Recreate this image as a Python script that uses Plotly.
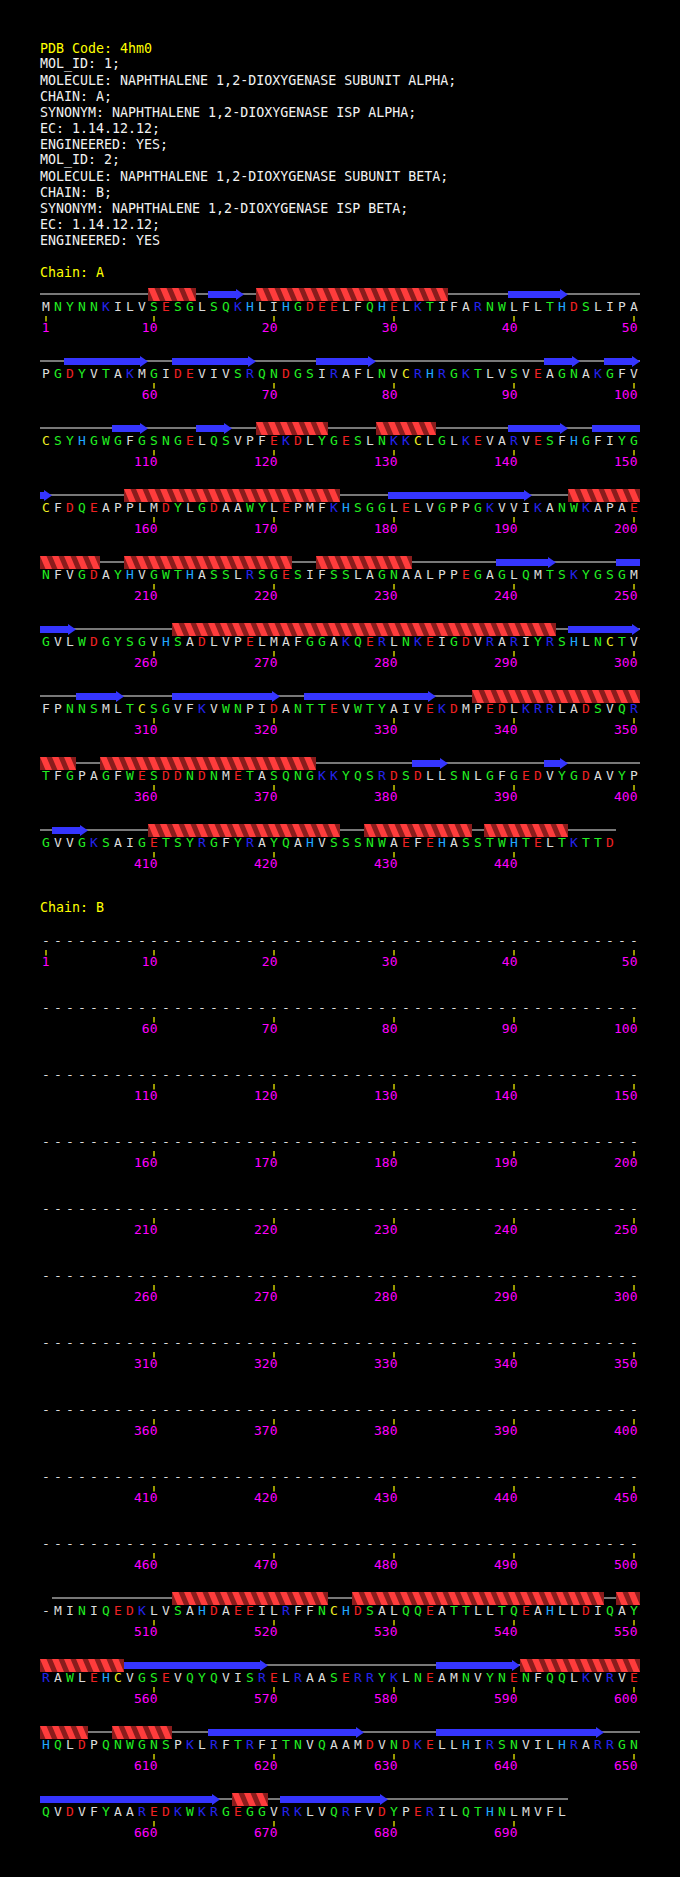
import plotly.graph_objects as go

# ---- data ----
PDB_CODE = "4hm0"
HEADER_LINES = [
    "MOL_ID: 1;",
    "MOLECULE: NAPHTHALENE 1,2-DIOXYGENASE SUBUNIT ALPHA;",
    "CHAIN: A;",
    "SYNONYM: NAPHTHALENE 1,2-DIOXYGENASE ISP ALPHA;",
    "EC: 1.14.12.12;",
    "ENGINEERED: YES;",
    "MOL_ID: 2;",
    "MOLECULE: NAPHTHALENE 1,2-DIOXYGENASE SUBUNIT BETA;",
    "CHAIN: B;",
    "SYNONYM: NAPHTHALENE 1,2-DIOXYGENASE ISP BETA;",
    "EC: 1.14.12.12;",
    "ENGINEERED: YES",
]

CHAIN_A_SEQ = (
    "MNYNNKILVSESGLSQKHLIHGDEELFQHELKTIFARNWLFLTHDSLIPA"
    "PGDYVTAKMGIDEVIVSRQNDGSIRAFLNVCRHRGKTLVSVEAGNAKGFV"
    "CSYHGWGFGSNGELQSVPFEKDLYGESLNKKCLGLKEVARVESFHGFIYG"
    "CFDQEAPPLMDYLGDAAWYLEPMFKHSGGLELVGPPGKVVIKANWKAPAE"
    "NFVGDAYHVGWTHASSLRSGESIFSSLAGNAALPPEGAGLQMTSKYGSGM"
    "GVLWDGYSGVHSADLVPELMAFGGAKQERLNKEIGDVRARIYRSHLNCTV"
    "FPNNSMLTCSGVFKVWNPIDANTTEVWTYAIVEKDMPEDLKRRLADSVQR"
    "TFGPAGFWESDDNDNMETASQNGKKYQSRDSDLLSNLGFGEDVYGDAVYP"
    "GVVGKSAIGETSYRGFYRAYQAHVSSSNWAEFEHASSTWHTELTKTTD"
)
CHAIN_A_HELIX = [(10, 13), (19, 34), (119, 124), (129, 133), (158, 175),
                 (195, 205), (208, 221), (224, 231), (262, 293), (337, 353),
                 (356, 373), (410, 425), (428, 436), (438, 444)]
CHAIN_A_STRAND = [(15, 17), (40, 44), (53, 59), (62, 68), (74, 78), (93, 95),
                  (98, 100), (107, 109), (114, 116), (140, 144), (147, 151),
                  (180, 191), (239, 243), (249, 253), (295, 300), (304, 307),
                  (312, 320), (323, 333), (382, 384), (393, 394), (402, 404)]

CHAIN_B_GAP = 501  # positions shown as "-" before the first residue
CHAIN_B_RES = (
    "MINIQEDKLVSAHDAEEILRFFNCHDSALQQEATTLLTQEAHLLDIQAY"
    "RAWLEHCVGSEVQYQVISRELRAASERRYKLNEAMNVYNENFQQLKVRVE"
    "HQLDPQNWGNSPKLRFTRFITNVQAAMDVNDKELLHIRSNVILHRARRGN"
    "QVDVFYAAREDKWKRGEGGVRKLVQRFVDYPERILQTHNLMVFL"
)
CHAIN_B_SEQ = "-" * CHAIN_B_GAP + CHAIN_B_RES
CHAIN_B_HELIX = [(512, 524), (527, 547), (549, 557), (591, 604), (607, 611),
                 (667, 669)]
CHAIN_B_STRAND = [(558, 569), (584, 590), (615, 627), (634, 647), (651, 665),
                  (671, 679)]

# ---- layout ----
W, H = 680, 1877
X0 = 40
PITCH = 12
PER_ROW = 50
ROW_STEP = 67
FONT = "DejaVu Sans Mono"
FS = 13

AA_COLOR = {}
for aa in "AVLIMFP-":
    AA_COLOR[aa] = "#dcdcdc"
for aa in "GSTNQYW":
    AA_COLOR[aa] = "#22ee22"
for aa in "KR":
    AA_COLOR[aa] = "#2424ee"
for aa in "DE":
    AA_COLOR[aa] = "#ee2222"
AA_COLOR["H"] = "#20a8ff"
AA_COLOR["C"] = "#eeee22"

coil_x, coil_y = [], []
hd_x, hd_y = [], []
hb_x, hb_y = [], []
st_x, st_y = [], []
let_x, let_y, let_t, let_c = [], [], [], []
tk_x, tk_y = [], []
nm_x, nm_y, nm_t = [], [], []


def place(i, top):
    r, c = divmod(i - 1, PER_ROW)
    return r, c, top + ROW_STEP * r


def add_chain(seq, helices, strands, top):
    n = len(seq)
    nrows = (n + PER_ROW - 1) // PER_ROW
    for r in range(nrows):
        idx = range(r * PER_ROW + 1, min(n, (r + 1) * PER_ROW) + 1)
        real = [i for i in idx if seq[i - 1] != "-"]
        if real:
            c0 = (real[0] - 1) % PER_ROW
            c1 = (real[-1] - 1) % PER_ROW
            yl = top + ROW_STEP * r
            coil_x.extend([X0 + PITCH * c0, X0 + PITCH * (c1 + 1), None])
            coil_y.extend([yl, yl, None])

    for i, aa in enumerate(seq, start=1):
        r, c, yl = place(i, top)
        cx = X0 + PITCH * c + PITCH / 2
        let_x.append(cx)
        let_y.append(yl + 14)
        let_t.append(aa)
        let_c.append(AA_COLOR.get(aa, "#dcdcdc"))
        if i == 1 or i % 10 == 0:
            tk_x.extend([cx, cx, None])
            tk_y.extend([yl + 22, yl + 27.5, None])
            s = str(i)
            nm_x.append(cx + 3.5 - len(s) * 3.9)
            nm_y.append(yl + 35)
            nm_t.append(s)

    def split(s, e):
        out = []
        i = s
        while i <= e:
            r = (i - 1) // PER_ROW
            row_end = min(e, (r + 1) * PER_ROW)
            out.append((i, row_end, row_end == e))
            i = row_end + 1
        return out

    for s, e in helices:
        for a, b, _ in split(s, e):
            r, ca, yl = place(a, top)
            _, cb, _ = place(b, top)
            yc = yl + 0.5
            t, bt = yc - 6.5, yc + 6.5
            xl, xr = X0 + PITCH * ca, X0 + PITCH * (cb + 1)
            hd_x.extend([xl, xr, xr, xl, xl, None])
            hd_y.extend([t, t, bt, bt, t, None])
            for c in range(ca, cb + 1):
                x = X0 + PITCH * c
                hb_x.extend([x, x + 6.5, x + 12, x + 5.5, x, None])
                hb_y.extend([t, t, bt, bt, t, None])

    for s, e in strands:
        for a, b, head in split(s, e):
            r, ca, yl = place(a, top)
            _, cb, _ = place(b, top)
            yc = yl + 0.5
            xl, xr = X0 + PITCH * ca, X0 + PITCH * (cb + 1)
            if head:
                xh = xr - 8
                st_x.extend([xl, xh, xh, xr, xh, xh, xl, xl, None])
                st_y.extend([yc - 3.5, yc - 3.5, yc - 5.5, yc, yc + 5.5,
                             yc + 3.5, yc + 3.5, yc - 3.5, None])
            else:
                st_x.extend([xl, xr, xr, xl, xl, None])
                st_y.extend([yc - 3.5, yc - 3.5, yc + 3.5, yc + 3.5,
                             yc - 3.5, None])


CHAIN_A_TOP = 294
CHAIN_B_TOP = 928
add_chain(CHAIN_A_SEQ, CHAIN_A_HELIX, CHAIN_A_STRAND, CHAIN_A_TOP)
add_chain(CHAIN_B_SEQ, CHAIN_B_HELIX, CHAIN_B_STRAND, CHAIN_B_TOP)

fig = go.Figure()
fig.add_trace(go.Scatter(x=coil_x, y=coil_y, mode="lines",
                         line=dict(color="#f0f0f0", width=1.2),
                         hoverinfo="skip"))
fig.add_trace(go.Scatter(x=hd_x, y=hd_y, mode="lines", fill="toself",
                         fillcolor="#8a1c1c", line=dict(width=0),
                         hoverinfo="skip"))
fig.add_trace(go.Scatter(x=hb_x, y=hb_y, mode="lines", fill="toself",
                         fillcolor="#ff3c3c", line=dict(width=0),
                         hoverinfo="skip"))
fig.add_trace(go.Scatter(x=st_x, y=st_y, mode="lines", fill="toself",
                         fillcolor="#3535ff", line=dict(width=0),
                         hoverinfo="skip"))
fig.add_trace(go.Scatter(x=tk_x, y=tk_y, mode="lines",
                         line=dict(color="#ffff00", width=1.2),
                         hoverinfo="skip"))
fig.add_trace(go.Scatter(x=let_x, y=let_y, mode="text", text=let_t,
                         textposition="middle center",
                         textfont=dict(family=FONT, size=FS, color=let_c),
                         hoverinfo="skip"))
fig.add_trace(go.Scatter(x=nm_x, y=nm_y, mode="text", text=nm_t,
                         textposition="middle center",
                         textfont=dict(family=FONT, size=FS, color="#ff00ff"),
                         hoverinfo="skip"))

notes = [("PDB Code: " + PDB_CODE, 48, "#ffff00")]
for k, line in enumerate(HEADER_LINES):
    notes.append((line, 64 + 16 * k, "#f2f2f2"))
notes.append(("Chain: A", CHAIN_A_TOP - 22, "#ffff00"))
notes.append(("Chain: B", CHAIN_B_TOP - 21, "#ffff00"))
for txt, y, col in notes:
    fig.add_annotation(x=X0, y=y, xref="x", yref="y", text=txt,
                       showarrow=False, xanchor="left", yanchor="middle",
                       borderpad=0, borderwidth=0,
                       font=dict(family=FONT, size=13.3, color=col))

fig.update_layout(
    width=W, height=H,
    margin=dict(l=0, r=0, t=0, b=0),
    paper_bgcolor="black", plot_bgcolor="black",
    showlegend=False,
    xaxis=dict(range=[0, W], visible=False, fixedrange=True),
    yaxis=dict(range=[H, 0], visible=False, fixedrange=True),
)

fig.write_html("out.html", config={"displayModeBar": False},
               post_script="document.body.style.margin='0';")
